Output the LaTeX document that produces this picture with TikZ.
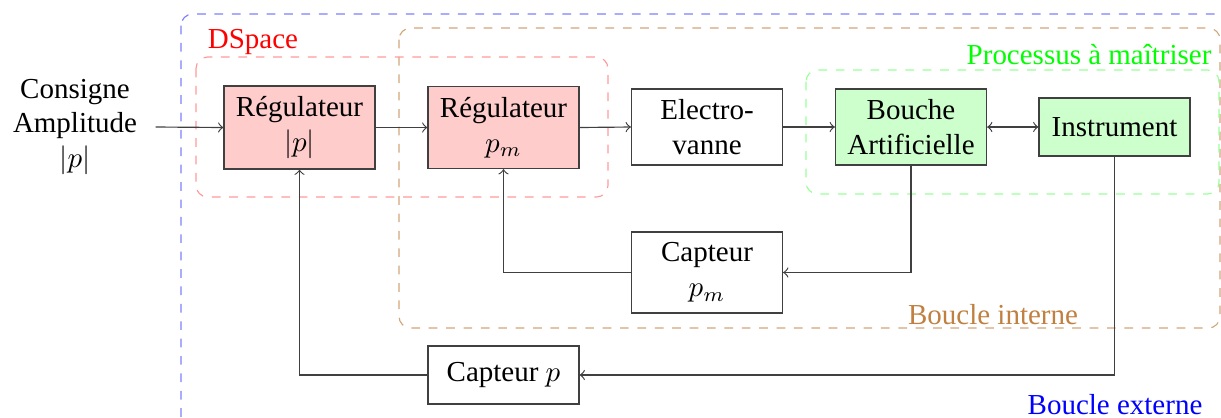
\documentclass[tikz,border=0pt]{standalone}
\usepackage{fontspec}
\setmainfont{Liberation Serif}
\begin{document}
\begin{tikzpicture}[x=0.345pt,y=-0.345pt,
  blk/.style={draw=black!75, minimum width=52.1pt, inner sep=2pt, align=center, text=black},
  conn/.style={draw=black!75, ->},
  grp/.style={dashed, rounded corners=4pt},
]
\useasboundingbox (0,0) rectangle (1221,417);
\clip (0,0) rectangle (1221,417);
% group frames
\draw[grp, blue!50] (181,14) rectangle (1245,428);
\draw[grp, brown!70] (399,28) rectangle (1220,328);
\draw[grp, red!40] (196,57) rectangle (608,197);
\draw[grp, green!40] (806,70) rectangle (1219,194);
\node[text=red] (lds) at (253,42) {DSpace};
\node[text=green, anchor=east, inner sep=0pt] (lpr) at (1212,55) {Processus à maîtriser};
\node[text=brown] (lbi) at (993,315) {Boucle interne};
\node[text=blue] (lbe) at (1115,405) {Boucle externe};
% nodes
\node[align=center, minimum width=55.2pt, inner sep=0pt] (in) at (75,127) {Consigne\\Amplitude\\$|p|$};
\node[blk, fill=red!20, minimum height=28.6pt] (r1) at (299.5,127.5) {Régulateur\\$|p|$};
\node[blk, fill=red!20, minimum height=28.3pt] (r2) at (503.5,127.5) {Régulateur\\$p_m$};
\node[blk, minimum height=26.2pt] (ev) at (707,127) {Electro-\\vanne};
\node[blk, fill=green!20, minimum height=26.2pt] (ba) at (911,127) {Bouche\\Artificielle};
\node[blk, fill=green!20, minimum height=20pt] (ins) at (1114.5,127) {Instrument};
\node[blk, minimum height=27.9pt] (cpm) at (707,272.5) {Capteur\\$p_m$};
\node[blk, minimum height=20pt] (cp) at (503.5,375) {Capteur $p$};
% connectors
\draw[conn] (in.east) -- (r1.west);
\draw[conn] (r1.east) -- (r2.west);
\draw[conn] (r2.east) -- (ev.west);
\draw[conn] (ev.east) -- (ba.west);
\draw[draw=black!75, <->] (ba.east) -- (ins.west);
\draw[conn] (ba.south) |- (cpm.east);
\draw[conn] (cpm.west) -| (r2.south);
\draw[conn] (ins.south) |- (cp.east);
\draw[conn] (cp.west) -| (r1.south);
\end{tikzpicture}
\end{document}
